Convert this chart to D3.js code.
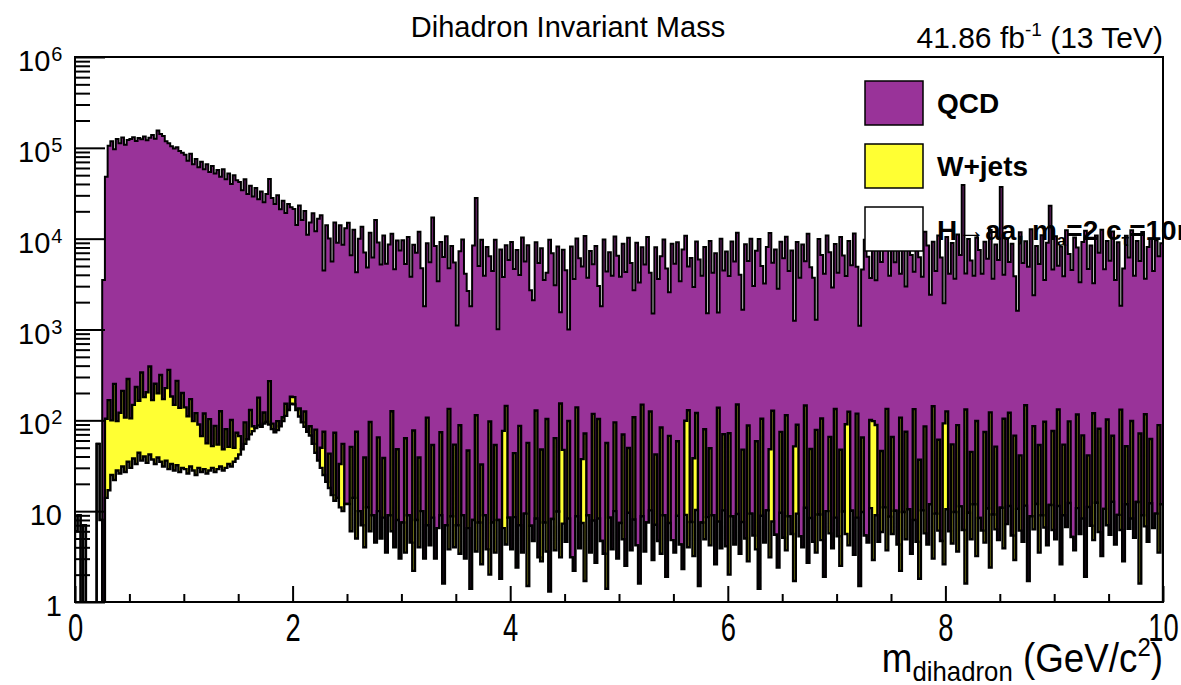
<!DOCTYPE html>
<html>
<head>
<meta charset="utf-8">
<script src="https://cdnjs.cloudflare.com/ajax/libs/d3/7.8.5/d3.min.js"></script>
<style>
body{margin:0;background:#fff;}
text{font-family:"Liberation Sans",Arial,Helvetica,sans-serif;fill:#000;}
</style>
</head>
<body>
<svg id="chart" width="1181" height="685"></svg>
<script>
var binWidth = 0.025

var qcd = [
  0,0,0,0,0,0,0,0,0,0,
  3500,48000,105000,118000,96000,125000,112000,130000,108000,122000,
  125000,131000,119000,128000,124000,133000,121000,129000,138000,126000,155000,142000,135000,118000,112000,104000,98000,101000,92000,88000,
  84000,72000,86000,66000,75000,61000,70000,58000,66000,54000,63000,52000,57000,48000,58000,45000,52000,40000,50000,44000,
  42000,34000,45000,31000,38000,29000,36000,27000,33000,25000,31000,45000,28000,24000,30000,21000,26000,19000,24000,22000,
  21000,14000,23000,16000,20000,11000,15000,19000,12000,16500,18000,4400,14000,10000,5600,15000,9000,14000,8500,13000,
  15000,6500,12500,4200,10000,13500,7000,4800,11500,6200,16000,9000,5200,10800,5300,8600,11200,4600,9500,7400,
  9600,5200,10400,3800,8500,7000,11900,4700,1800,8800,5500,17000,8300,3400,9100,6300,10600,4600,8300,5400,
  1100,7200,9800,4100,2600,1800,8400,28000,5000,9700,3900,8100,6300,4400,9700,1000,7600,3700,8300,5800,
  9200,4600,7500,3900,10300,5600,8400,2700,2100,9000,5400,7800,3500,4100,9700,6900,3000,8200,1400,7500,
  4500,900,8200,3600,9900,6100,4900,10600,3700,7300,5100,8300,2900,1800,9800,4300,7100,3900,10500,6500,
  3800,8700,4300,10200,5400,2600,9000,3300,7900,5200,10400,4100,1500,8000,3600,6300,9800,4700,2500,8800,
  5300,9100,3400,7600,10700,4800,6100,2900,9200,5900,3900,8000,1500,9400,4200,6900,1400,10000,4400,7200,
  3800,9300,5600,11500,4000,1600,8700,5600,10000,3000,7300,9900,4900,3200,8100,11500,5300,7600,2800,9200,
  6100,10400,4400,7400,1200,9100,3700,8600,5500,11300,4800,3700,1200,9900,6500,4100,10800,7000,2900,8600,
  4200,10400,6500,3800,9300,5100,11400,4800,1100,4500,9700,6300,3600,10900,3400,8200,5500,11900,7700,3900,
  9900,5500,12300,4000,8300,2900,10600,6600,4200,9700,6200,3800,11800,8400,2400,9100,4400,10800,6200,1850,
  10300,4100,8900,3600,11000,6600,39000,4000,9900,5700,3900,10200,7500,4100,9200,6000,12300,3600,8600,5800,
  37000,3900,10100,5400,8800,3800,1600,11700,5400,9200,4900,12700,2300,8300,5200,10900,3400,9000,23000,4500,
  10600,4900,8200,3800,12400,6700,4500,10300,7900,3300,9100,12200,4600,8400,3100,10800,6900,12500,4600,9300,
  5700,11900,3500,9100,1700,4700,10700,6200,12300,3900,9400,5600,11800,3500,8100,10000,4400,9600,6300,8900
]

var wjets = [
  0,0,0,0,0,0,0,0,0,0,
  0,90,150,75,230,70,95,180,80,250,
  75,110,200,120,300,140,170,350,130,220,160,280,140,190,330,150,120,240,110,170,
  110,85,140,70,95,60,40,90,30,75,22,60,25,95,20,50,18,70,15,35,
  25,0,40,0,60,10,0,90,0,30,0,180,12,0,20,0,10,40,0,30,
  30,0,25,0,40,0,18,0,35,0,20,50,0,25,0,60,0,22,45,0,
  0,45,0,70,0,0,35,0,90,0,0,55,0,30,0,0,120,0,40,0,
  0,60,0,0,75,0,35,0,0,100,0,45,0,0,65,0,0,130,0,50,
  0,85,0,0,40,0,0,110,0,30,0,0,95,0,50,0,0,70,140,0,
  0,35,0,80,0,0,55,0,0,120,0,45,0,100,0,0,60,0,150,40,
  0,90,0,0,130,0,30,70,0,0,110,0,95,0,0,55,0,0,85,0,
  0,65,0,40,0,100,0,0,140,0,0,115,0,35,0,80,0,0,60,0,
  0,50,0,0,90,125,0,35,110,0,0,75,0,45,0,0,130,0,60,0,
  70,0,0,140,0,40,0,85,0,0,55,0,95,0,0,45,120,0,0,65,
  0,110,0,0,50,80,0,0,135,0,40,0,75,0,100,0,0,60,0,125,
  0,45,0,85,120,0,0,110,0,55,0,0,90,95,80,0,40,0,130,0,
  60,0,0,105,0,70,0,0,125,0,35,0,80,0,0,140,0,55,0,90,
  115,0,50,0,85,0,0,130,0,40,0,95,0,0,70,0,120,0,45,0,
  0,100,0,110,0,65,0,35,0,135,0,0,80,0,50,0,90,0,0,70,
  0,120,0,45,0,85,0,0,105,0,60,0,30,0,115,0,75,0,0,95,
  0,55,0,0,125,0,40,0,90,0,0,70,0,110,0,50,0,0,85,0
]

var signal = [
  6,9,0,7,0,0,0,0,55,8,
  0,14,17,25,22,28,26,31,27,35,
  30,38,33,44,36,40,34,42,37,33,39,35,31,36,29,33,28,32,27,30,
  29,26,31,28,25,30,27,29,26,28,30,27,29,31,28,30,33,31,35,38,
  42,48,55,62,70,76,82,88,85,92,96,90,80,74,78,86,98,112,130,152,
  150,130,110,95,85,75,68,55,44,36,30,25,21,18,15,13,14,11,10,12,
  12,6,14,5,10,7,4,11,6,9,4.5,10,5,8.5,3.5,9,6,4,8,3,
  7.5,3.5,9,4.5,2.2,8,4,10,3,7,4.2,8.5,3,6.5,9,1.6,7,3.8,8.8,4,
  7,3.4,9,3,6.5,1.4,8,3.6,7.5,2.6,9,3.8,2,7.5,3.5,8,1.8,6.5,4.3,8.5,
  3.8,8.6,2.4,7,3.5,9.4,1.5,6.9,4.7,8.3,3.1,2.8,7.5,3.6,1.3,8.2,3.7,9.9,3.1,7.3,
  4.6,8.3,3.1,2.2,8.8,3.9,7.4,1.7,9,3.5,7.9,2.7,8.3,4.7,3.4,1.4,8.5,3.8,10,3,
  7.4,4.9,2.5,9.6,3.7,8.1,4.2,1.6,8.8,3.6,7.5,10.2,2.9,7.1,4.7,3.4,9,1.9,7.4,4.8,
  3.5,8.9,4.3,2.3,9.1,4,7.6,3.2,10.3,1.5,7.5,4.9,8.6,4.2,9,2.6,7.7,3.9,10.2,4.1,
  2,8.8,4.3,9.3,3.4,7.6,5,2.8,9.4,5.4,3.8,1.4,8.9,4.5,10.2,3.1,7.7,5.5,2.4,9.6,
  5.1,3.7,8.8,5.6,1.7,9.4,5.3,4,10.9,2.7,8.4,4.6,3.5,9.2,4.8,1.9,10,5.7,3.9,8.5,
  5.3,2.5,9.9,5.6,4.2,10.1,3.3,8.5,1.5,9.8,5.4,4.5,10.8,2.9,9,4.6,5.9,11,3.7,8.7,
  5.6,10.1,4.3,2.2,9.8,4.9,10.5,3.4,8,4.6,1.8,10.2,5.7,4.3,11.9,3,9.4,6.1,4.7,2.6,
  10.5,6,4.4,9.8,3.6,11.3,6.2,1.6,9.6,4.9,11.9,3.2,8.4,6.1,4.5,10.7,2.4,9.2,6.3,4.8,
  10.9,3.9,7.2,11.4,5.4,2.9,10.6,6.1,4.6,11.5,1.7,8.8,6.3,12,3.5,9,6.6,4.2,11.7,6.2,
  4.9,11.4,2.6,9,6.7,12.3,5.2,3.7,10.8,5.6,8.3,1.9,11.1,6.9,4.8,12.4,5.9,3.2,10.6,7,
  5.5,12.7,4.3,9.1,6.2,2.8,11.9,6.4,8.3,5.1,12.6,1.6,9,6.8,4.6,12.2,6.5,9.4,3.5,11.9
]

var xTicks = [0,2,4,6,8,10]
var xMinorTicks = [0.5,1,1.5,2.5,3,3.5,4.5,5,5.5,6.5,7,7.5,8.5,9,9.5]
var yTicks = [1,10,100,1000,10000,100000,1000000]
var yTickBase = ["1","10","10","10","10","10","10"]
var yTickExp = ["","","2","3","4","5","6"]
var legendNames = ["QCD","W+jets"]
var legendColors = ["#993399","#ffff33","#ffffff"]

var svg = d3.select('#chart')
var fLeft = 75, fRight = 1163, fTop = 57, fBottom = 602

var x = d3.scaleLinear().domain([0,10]).range([fLeft,fRight])
var y = d3.scaleLog().domain([1,1e6]).range([fBottom,fTop])

var bins = qcd.map(function(q,i){
  var s = signal[i], w = s + wjets[i]
  return {lo: i*binWidth, sig: s, sw: w, tot: w + q}
})
var last = bins[bins.length-1]
bins.push({lo: bins.length*binWidth, sig: last.sig, sw: last.sw, tot: last.tot})

svg.append('clipPath').attr('id','frameClip')
  .append('rect').attr('x',fLeft).attr('y',fTop).attr('width',fRight-fLeft).attr('height',fBottom-fTop)

function stepArea(key){
  return d3.area()
    .curve(d3.curveStepAfter)
    .x(function(d){return x(d.lo)})
    .y0(y(0.1))
    .y1(function(d){return y(Math.max(d[key],0.1))})
}

// stack drawn top-down like THStack: total first, then W+signal, then signal
var hist = svg.append('g').attr('clip-path','url(#frameClip)')
var layers = [
  {key:'tot', fill:legendColors[0], lw:2},
  {key:'sw', fill:legendColors[1], lw:2.4},
  {key:'sig', fill:legendColors[2], lw:2.4}
]
layers.forEach(function(l){
  hist.append('path')
    .datum(bins)
    .attr('d', stepArea(l.key))
    .attr('fill', l.fill)
    .attr('stroke','#000')
    .attr('stroke-width',l.lw)
    .attr('stroke-linejoin','miter')
})

// axes
var yMinor = []
for (var d = 0; d < 6; d++){
  for (var k = 2; k < 10; k++) yMinor.push(k*Math.pow(10,d))
}

var yMaj = svg.append('g').attr('transform','translate('+fLeft+',0)')
  .call(d3.axisLeft(y).tickValues(yTicks).tickSize(-30).tickFormat(''))
var yMin = svg.append('g').attr('transform','translate('+fLeft+',0)')
  .call(d3.axisLeft(y).tickValues(yMinor).tickSize(-15).tickFormat(''))
var xMaj = svg.append('g').attr('transform','translate(0,'+fBottom+')')
  .call(d3.axisBottom(x).tickValues(xTicks).tickSize(-16).tickPadding(12).tickFormat(d3.format('d')))
var xMin = svg.append('g').attr('transform','translate(0,'+fBottom+')')
  .call(d3.axisBottom(x).tickValues(xMinorTicks).tickSize(-8).tickFormat(''))

;[yMaj,yMin,xMaj,xMin].forEach(function(a){
  a.select('.domain').remove()
  a.selectAll('line').attr('stroke','#000').attr('stroke-width',2)
})

xMaj.selectAll('text')
  .attr('font-size',38)
  .attr('dy','0.71em')
  .attr('transform','scale(0.72,1)')
  .style('font-family','"Liberation Sans",Arial,sans-serif')
  .attr('fill','#000')

svg.append('rect')
  .attr('x',fLeft).attr('y',fTop).attr('width',fRight-fLeft).attr('height',fBottom-fTop)
  .attr('fill','none').attr('stroke','#000').attr('stroke-width',2)

var yLab = svg.append('g').selectAll('text')
  .data(yTicks).enter().append('text')
  .attr('x', function(d,i){ return yTickExp[i] ? 18 : 62 })
  .attr('y', function(d){ return y(d) + 14 })
  .attr('text-anchor', function(d,i){ return yTickExp[i] ? 'start' : 'end' })
  .attr('font-size',29)
  .text(function(d,i){ return yTickBase[i] })
yLab.filter(function(d,i){ return yTickExp[i] != '' })
  .append('tspan')
  .attr('font-size',20)
  .attr('dy',-10)
  .attr('dx',1)
  .text(function(d){ return yTickExp[yTicks.indexOf(d)] })

// titles
svg.append('text').attr('x',568).attr('y',37).attr('text-anchor','middle')
  .attr('font-size',29).text('Dihadron Invariant Mass')

var lumi = svg.append('text').attr('x',1163).attr('y',48).attr('text-anchor','end').attr('font-size',30)
lumi.append('tspan').text('41.86 fb')
lumi.append('tspan').attr('font-size',19).attr('dy',-12).text('-1')
lumi.append('tspan').attr('dy',12).text(' (13 TeV)')

var xt = svg.append('g').attr('transform','translate(1163,672) scale(0.92,1)')
  .append('text').attr('text-anchor','end').attr('font-size',40)
xt.append('tspan').text('m')
xt.append('tspan').attr('font-size',28).attr('dy',9).text('dihadron')
xt.append('tspan').attr('dy',-9).text(' (GeV/c')
xt.append('tspan').attr('font-size',26).attr('dy',-16).text('2')
xt.append('tspan').attr('dy',16).text(')')

// legend
var legend = svg.append('g')
var boxes = [81,144,207]
legend.selectAll('rect').data(legendColors).enter().append('rect')
  .attr('x',865).attr('y',function(d,i){return boxes[i]})
  .attr('width',58).attr('height',44)
  .attr('fill',function(d){return d})
  .attr('stroke','#000').attr('stroke-width',1.5)
legend.selectAll('text.lg').data(legendNames).enter().append('text')
  .attr('class','lg')
  .attr('x',937).attr('y',function(d,i){return boxes[i]+32})
  .attr('font-size',28).attr('font-weight','bold')
  .text(function(d){return d})
var hl = legend.append('text').attr('x',937).attr('y',boxes[2]+33)
  .attr('font-size',28).attr('font-weight','bold')
hl.append('tspan').text('H\u2192aa, m')
hl.append('tspan').attr('font-size',17).attr('dy',6).text('a')
hl.append('tspan').attr('dy',-6).text('=2 c')
hl.append('tspan').attr('font-size',17).attr('dy',6).text('\u03c4')
hl.append('tspan').attr('dy',-6).text('=10mm')
</script>
</body>
</html>
